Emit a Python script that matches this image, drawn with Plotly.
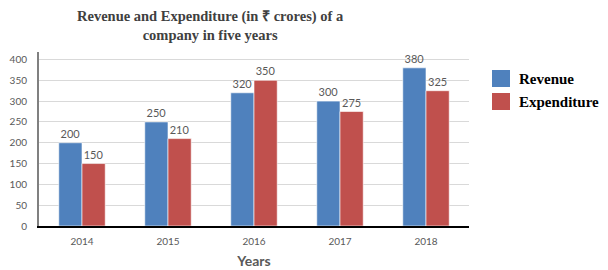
import plotly.graph_objects as go

years = ["2014", "2015", "2016", "2017", "2018"]
revenue = [200, 250, 320, 300, 380]
expenditure = [150, 210, 350, 275, 325]
y_ticks = [0, 50, 100, 150, 200, 250, 300, 350, 400]
series_names = ["Revenue", "Expenditure"]

blue = "#4F81BD"
red = "#C0504D"
grey = "#595959"
colors = [blue, red]

fig = go.Figure()
for name, vals, col in zip(series_names, [revenue, expenditure], colors):
    fig.add_trace(go.Bar(
        x=years, y=vals, name=name,
        marker=dict(color=col, line=dict(color="white", width=0.6)),
        text=vals, textposition="outside", cliponaxis=False,
        textfont=dict(family="Lato", size=11, color=grey),
        showlegend=False,
    ))

# plot area in pixels: x 39..469, y 52..226
def px_x(px):
    return (px - 39) / 430.0

def px_y(py):
    return (226 - py) / 174.0

shapes = []
annotations = []
legend_rows = [(70, 87), (93, 110)]
for (top, bot), name, col in zip(legend_rows, series_names, colors):
    shapes.append(dict(type="rect", xref="paper", yref="paper",
                       x0=px_x(492), x1=px_x(510), y0=px_y(bot), y1=px_y(top),
                       fillcolor=col, line=dict(width=0)))
    annotations.append(dict(text=name, xref="paper", yref="paper",
                            x=px_x(517), y=px_y((top + bot) / 2),
                            xanchor="left", yanchor="middle", showarrow=False,
                            font=dict(family="Liberation Serif", size=15, color="black", weight="bold")))

annotations.append(dict(
    text="Revenue and Expenditure (in ₹ crores) of a<br>company in five years",
    xref="paper", yref="paper", x=px_x(210), y=px_y(6),
    xanchor="center", yanchor="top", showarrow=False, align="center",
    font=dict(family="Liberation Serif", size=14.5, color="#404040", weight="bold"),
))

fig.update_layout(
    width=608, height=270,
    margin=dict(l=39, r=139, t=52, b=44),
    paper_bgcolor="white", plot_bgcolor="white",
    barmode="group", bargap=0.46, bargroupgap=0.0,
    showlegend=False,
    shapes=shapes, annotations=annotations,
)
fig.update_xaxes(
    showline=True, linecolor="black", linewidth=1.5,
    ticks="", tickfont=dict(family="Lato", size=10, color=grey),
    ticklabelstandoff=5,
    title=dict(text="Years", font=dict(family="Lato", size=14, color=grey, weight="bold"), standoff=10),
    showgrid=False, automargin=False,
)
fig.update_yaxes(
    range=[0, 418], tickvals=y_ticks,
    showline=True, linecolor="#808080", linewidth=2,
    gridcolor="#D9D9D9", gridwidth=1,
    tickfont=dict(family="Lato", size=10, color=grey),
    ticklabelstandoff=8,
    ticks="", zeroline=False, automargin=False,
)

fig.write_html("out.html", config={"displayModeBar": False},
               post_script="document.body.style.margin='0';document.body.style.overflow='hidden';")
